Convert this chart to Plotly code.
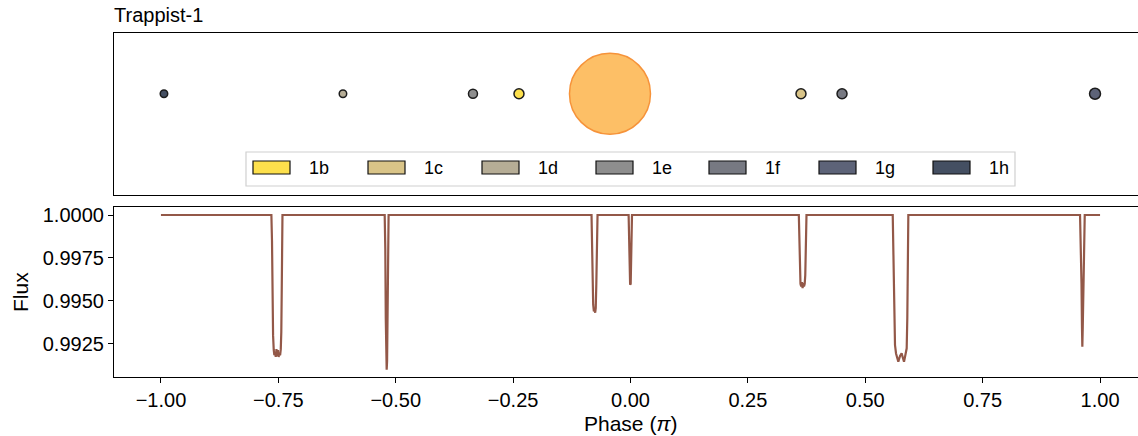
import plotly.graph_objects as go

# ---------------- data ----------------
# light curve vertices (phase in units of pi, relative flux)
phase_start = [-1.0]
flux_start = [1.0]

phase_b1 = [-0.7648, -0.7635, -0.7625, -0.7612, -0.7598, -0.7585, -0.7570, -0.7555, -0.7540, -0.7525,
            -0.7510, -0.7495, -0.7478, -0.7462, -0.7448, -0.7437, -0.7428, -0.7420, -0.7412]
flux_b1 = [1.0, 0.9985, 0.9950, 0.9930, 0.99215, 0.99185, 0.99195, 0.99175, 0.99220, 0.99180,
           0.99215, 0.99175, 0.99190, 0.99185, 0.99220, 0.99320, 0.99550, 0.99850, 1.0]

phase_b2 = [-0.5235, -0.5222, -0.5212, -0.5203, -0.5193, -0.5184, -0.5175, -0.5165, -0.5152]
flux_b2 = [1.0, 0.9980, 0.9940, 0.9915, 0.99100, 0.9915, 0.9940, 0.9980, 1.0]

phase_b3 = [-0.0830, -0.0818, -0.0808, -0.0795, -0.0780, -0.0765, -0.0752, -0.0740, -0.0728, -0.0716, -0.0702]
flux_b3 = [1.0, 0.9980, 0.9960, 0.9948, 0.99440, 0.99450, 0.99432, 0.99460, 0.9960, 0.9980, 1.0]

phase_b4 = [-0.0040, -0.0028, -0.0018, -0.0008, 0.0004, 0.0014, 0.0024, 0.0032]
flux_b4 = [1.0, 0.9980, 0.9965, 0.99595, 0.99600, 0.9970, 0.9988, 1.0]

phase_b5 = [0.3585, 0.3596, 0.3608, 0.3620, 0.3635, 0.3650, 0.3665, 0.3680, 0.3695, 0.3710, 0.3722, 0.3735, 0.3748]
flux_b5 = [1.0, 0.9985, 0.9970, 0.9960, 0.99585, 0.99610, 0.99575, 0.99605, 0.99585, 0.99600, 0.9965, 0.9985, 1.0]

phase_b6 = [0.5585, 0.5600, 0.5615, 0.5625, 0.5633, 0.5655, 0.5683, 0.5704, 0.5740, 0.5775,
            0.5800, 0.5825, 0.5850, 0.5868, 0.5882, 0.5895, 0.5905, 0.5912, 0.5917]
flux_b6 = [1.0, 0.9980, 0.9955, 0.9935, 0.99244, 0.99195, 0.99157, 0.99147, 0.99180, 0.99196,
           0.99170, 0.99147, 0.99180, 0.99205, 0.99225, 0.9940, 0.9965, 0.9990, 1.0]

phase_b7 = [0.9574, 0.9590, 0.9605, 0.9615, 0.9623, 0.9632, 0.9645, 0.9660, 0.9674]
flux_b7 = [1.0, 0.9985, 0.9960, 0.9935, 0.99234, 0.9935, 0.9965, 0.9990, 1.0]

phase_end = [1.0]
flux_end = [1.0]

# planets (top panel)
planet_names = ["1b", "1c", "1d", "1e", "1f", "1g", "1h"]
planet_colors = ["#fde04c", "#d9c488", "#b6ad96", "#8e8e8e", "#777982", "#5d6378", "#444f62"]
planet_pos = [-0.2375, 0.3631, -0.6124, -0.3355, 0.4505, 0.9893, -0.9936]
planet_diam = [10, 10, 7.5, 9, 10, 11, 7.5]
star_pos = -0.0437

x_ticks = [-1.0, -0.75, -0.5, -0.25, 0.0, 0.25, 0.5, 0.75, 1.0]
y_ticks = [0.9925, 0.9950, 0.9975, 1.0000]

# ---------------- layout helpers ----------------
W, H = 1138, 436
ML, MR, MT, MB = 114, 0, 33, 59
PW, PH = W - ML - MR, H - MT - MB


def px_x(px):
    return (px - ML) / PW


def px_y(py):
    return (H - MB - py) / PH


FONT = "Liberation Sans, Arial, sans-serif"
LINE_COLOR = "#935848"

phase = phase_start + phase_b1 + phase_b2 + phase_b3 + phase_b4 + phase_b5 + phase_b6 + phase_b7 + phase_end
flux = flux_start + flux_b1 + flux_b2 + flux_b3 + flux_b4 + flux_b5 + flux_b6 + flux_b7 + flux_end

fig = go.Figure()

fig.add_trace(go.Scatter(
    x=phase, y=flux, mode="lines",
    line=dict(color=LINE_COLOR, width=2.2),
    xaxis="x", yaxis="y", showlegend=False, hoverinfo="skip",
))

# star
fig.add_trace(go.Scatter(
    x=[star_pos], y=[0], mode="markers",
    marker=dict(size=81, color="#fdbf66", line=dict(color="#f6933a", width=1.5)),
    xaxis="x2", yaxis="y2", showlegend=False, hoverinfo="skip",
))

# planets
for name, col, pos, d in zip(planet_names, planet_colors, planet_pos, planet_diam):
    fig.add_trace(go.Scatter(
        x=[pos], y=[0], mode="markers", name=name,
        marker=dict(size=d, color=col, line=dict(color="#1c1c1c", width=1.5)),
        xaxis="x2", yaxis="y2", showlegend=False, hoverinfo="skip",
    ))

# manual legend (matplotlib style rectangular patches)
shapes = []
annotations = []
leg_box = (246, 152, 1015, 186)
shapes.append(dict(type="rect", xref="paper", yref="paper",
                   x0=px_x(leg_box[0]), x1=px_x(leg_box[2]),
                   y0=px_y(leg_box[3]), y1=px_y(leg_box[1]),
                   line=dict(color="#d0d0d0", width=1.2), fillcolor="white", layer="above"))
patch_left = [253, 368, 482, 596, 709, 819, 933]
for name, col, x0 in zip(planet_names, planet_colors, patch_left):
    shapes.append(dict(type="rect", xref="paper", yref="paper",
                       x0=px_x(x0), x1=px_x(x0 + 37),
                       y0=px_y(174), y1=px_y(161),
                       line=dict(color="#111111", width=1.2), fillcolor=col, layer="above"))
    annotations.append(dict(text=name, xref="paper", yref="paper",
                            x=px_x(x0 + 54), y=px_y(167.5), xanchor="left", yanchor="middle",
                            showarrow=False, font=dict(family=FONT, size=18, color="black")))

# titles
annotations.append(dict(text="Trappist-1", xref="paper", yref="paper",
                        x=px_x(112), y=px_y(15), xanchor="left", yanchor="middle",
                        showarrow=False, font=dict(family=FONT, size=20, color="black")))
annotations.append(dict(text="Phase (<i>π</i>)", xref="paper", yref="paper",
                        x=px_x(630.5), y=px_y(423), xanchor="center", yanchor="middle",
                        showarrow=False, font=dict(family=FONT, size=21, color="black")))
annotations.append(dict(text="Flux", xref="paper", yref="paper",
                        x=px_x(20), y=px_y(292), xanchor="center", yanchor="middle", textangle=-90,
                        showarrow=False, font=dict(family=FONT, size=21, color="black")))


def fmt(v):
    s = f"{v:.2f}"
    return s.replace("-", "\u2212")


x_range = [-1.1, 1.1 - 9 / 469.5]
axis_common = dict(showgrid=False, zeroline=False, linecolor="black", linewidth=1.2)

fig.update_layout(
    width=W, height=H,
    margin=dict(l=ML, r=MR, t=MT, b=MB, pad=0),
    paper_bgcolor="white", plot_bgcolor="white",
    font=dict(family=FONT, size=20, color="black"),
    xaxis=dict(domain=[0, 1], range=x_range, anchor="y", showline=True, mirror=True,
               ticks="outside", ticklen=5, tickwidth=1.2, tickcolor="black",
               tickvals=x_ticks, ticktext=[fmt(v) for v in x_ticks],
               tickfont=dict(family=FONT, size=20), **axis_common),
    yaxis=dict(domain=[0, px_y(207)], range=[0.99058, 1.000465], anchor="x", showline=True,
               ticks="outside", ticklen=5, tickwidth=1.2, tickcolor="black",
               tickvals=y_ticks, ticktext=[f"{v:.4f}" for v in y_ticks],
               tickfont=dict(family=FONT, size=20), **axis_common),
    xaxis2=dict(domain=[0, 1], range=x_range, anchor="y2", showline=True, mirror=True,
                showticklabels=False, ticks="", **axis_common),
    yaxis2=dict(domain=[px_y(195), 1], range=[-1.25, 0.75], anchor="x2", showline=True,
                showticklabels=False, ticks="", **axis_common),
    shapes=shapes,
    annotations=annotations,
    showlegend=False,
)

fig.write_html("out.html", config={"displayModeBar": False},
               post_script="document.body.style.margin='0';document.body.style.overflow='hidden';")
